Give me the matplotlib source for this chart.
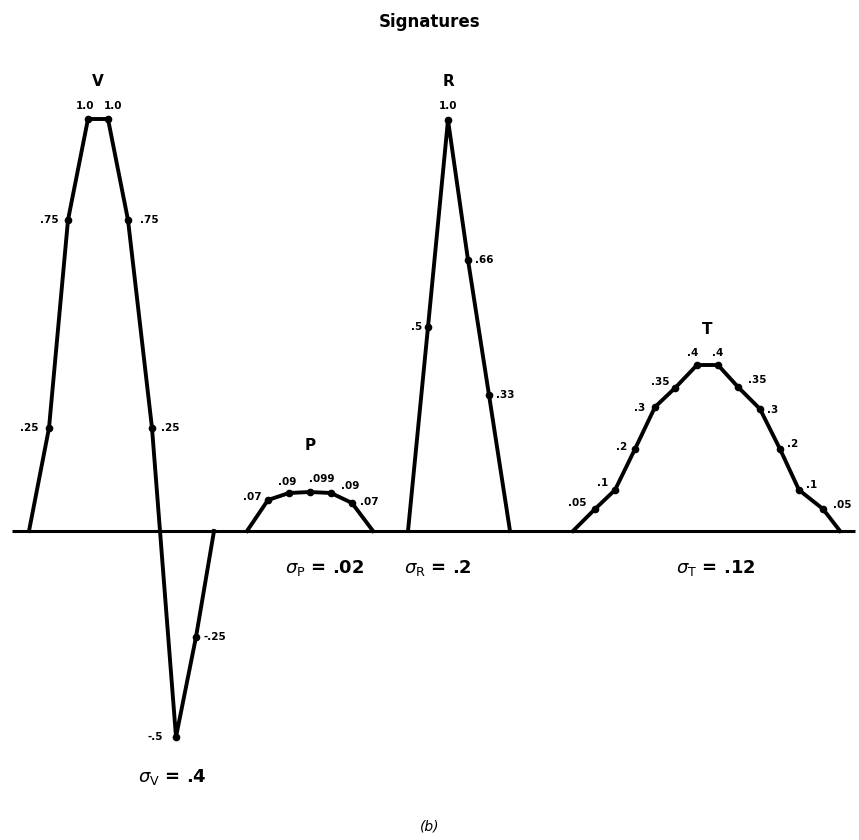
import matplotlib.pyplot as plt

plt.rcParams['mathtext.fontset'] = 'dejavusans'

# Schematic drawing: x positions and heights above the baseline (drawing units)
v_x = [29, 49, 68, 88, 108, 128, 152, 176, 196, 214]
v_h = [0, 103, 311, 412, 412, 311, 103, -206, -106, 0]
v_lab = ['', '.25', '.75', '1.0', '1.0', '.75', '.25', '-.5', '-.25', '']

p_x = [247, 268, 289, 310, 331, 352, 373]
p_h = [0, 31, 38, 39, 38, 28, 0]
p_lab = ['', '.07', '.09', '.099', '.09', '.07', '']

r_x = [408, 428, 448, 468, 489, 510]
r_h = [0, 204, 411, 271, 136, 0]
r_lab = ['', '.5', '1.0', '.66', '.33', '']

t_x = [573, 595, 615, 635, 655, 675, 697, 718, 738, 760, 780, 799, 823, 840]
t_h = [0, 22, 41, 82, 124, 143, 166, 166, 144, 122, 82, 41, 22, 0]
t_lab = ['', '.05', '.1', '.2', '.3', '.35', '.4', '.4', '.35', '.3', '.2',
         '.1', '.05', '']

sigma_text = [r'$\sigma_{\mathrm{V}}$ = .4', r'$\sigma_{\mathrm{P}}$ = .02',
              r'$\sigma_{\mathrm{R}}$ = .2', r'$\sigma_{\mathrm{T}}$ = .12']

# label offsets (style only)
v_off = [None, (-20, 0), (-19, 0), (-3, 13), (5, 13), (21, 0), (18, 0),
         (-21, 0), (19, 0), None]
p_off = [None, (-16, 3), (-2, 11), (12, 13), (19, 7), (17, 1), None]
r_off = [None, (-11, 0), (0, 14), (16, 0), (16, 0), None]
t_off = [None, (-18, 6), (-12, 7), (-13, 2), (-15, -1), (-15, 6), (-4, 12),
         (0, 12), (19, 7), (13, -1), (13, 5), (13, 5), (19, 4), None]

fig = plt.figure(figsize=(8.59, 8.40), dpi=100)
ax = fig.add_axes([0, 0, 1, 1])
ax.set_xlim(0, 859)
ax.set_ylim(-309, 531)
ax.axis('off')

# baseline
ax.plot([12, 855], [0, 0], color='black', lw=2.2, solid_capstyle='butt')

for xs, hs, labs, offs in [(v_x, v_h, v_lab, v_off), (p_x, p_h, p_lab, p_off),
                           (r_x, r_h, r_lab, r_off), (t_x, t_h, t_lab, t_off)]:
    ax.plot(xs, hs, color='black', lw=2.8, solid_joinstyle='round')
    for x, h, lab, off in zip(xs, hs, labs, offs):
        if not lab:
            continue
        ax.plot(x, h, 'o', color='black', ms=4.5)
        ax.text(x + off[0], h + off[1], lab, fontsize=7.5, fontweight='bold',
                ha='center', va='center')

# curve names
ax.text(98, 449, 'V', fontsize=11, fontweight='bold', ha='center', va='center')
ax.text(448, 449, 'R', fontsize=11, fontweight='bold', ha='center', va='center')
ax.text(310, 86, 'P', fontsize=11, fontweight='bold', ha='center', va='center')
ax.text(707, 201, 'T', fontsize=11, fontweight='bold', ha='center', va='center')

# sigma annotations
for (sx, sy), s in zip([(172, -246), (325, -37), (438, -37), (716, -37)],
                       sigma_text):
    ax.text(sx, sy, s, fontsize=13, fontweight='bold', ha='center', va='center')

ax.text(430, 509, 'Signatures', fontsize=12, fontweight='bold',
        ha='center', va='center')
ax.text(430, -295, '(b)', fontsize=10, style='italic', ha='center', va='center')

fig.savefig('out.png', dpi=100)
